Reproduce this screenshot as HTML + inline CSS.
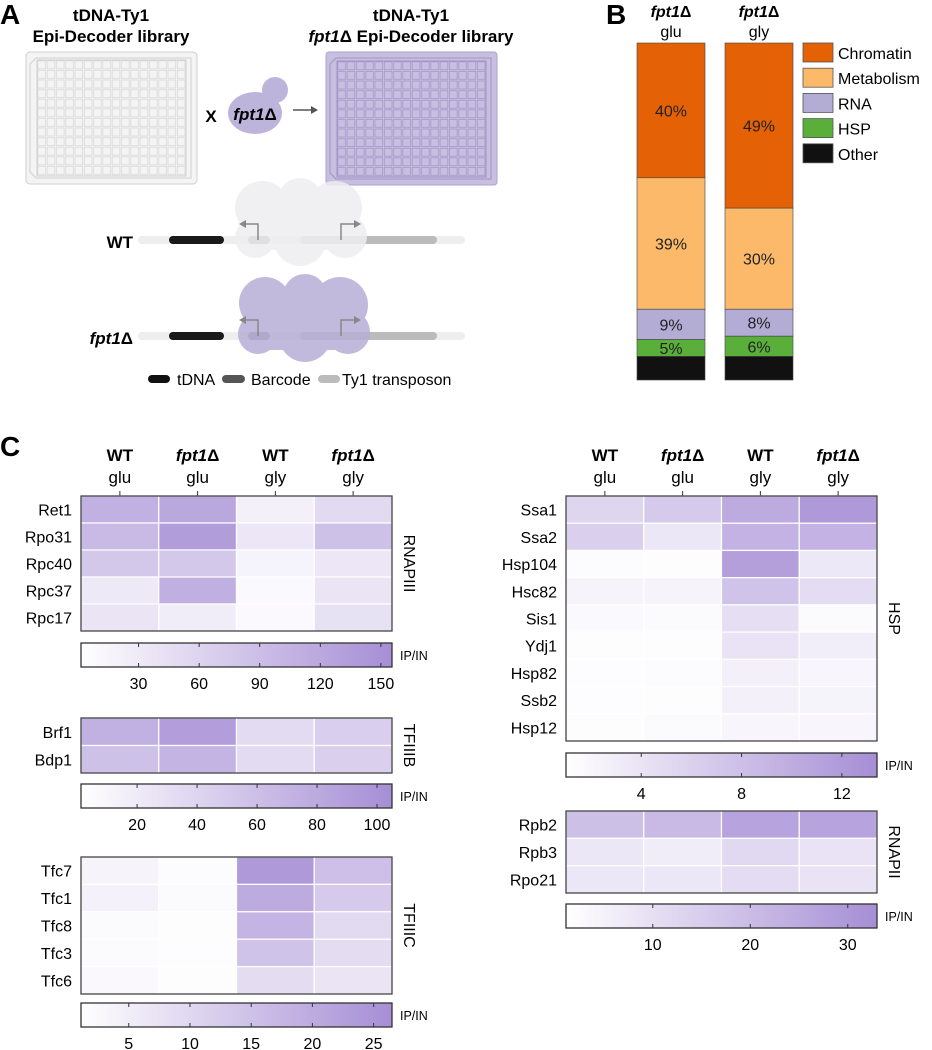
<!DOCTYPE html>
<html><head><meta charset="utf-8"><style>
body{margin:0;background:#fff;}
svg{display:block;font-family:"Liberation Sans",Arial,sans-serif;}
</style></head><body>
<svg id="fig" width="932" height="1050" viewBox="0 0 932 1050" xmlns="http://www.w3.org/2000/svg">
<defs>
<pattern id="gridL" x="37" y="60" width="9.3" height="9.6" patternUnits="userSpaceOnUse"><rect x="0.8" y="0.8" width="7.7" height="8" fill="none" stroke="#d8d8d8" stroke-width="0.8"/></pattern>
<pattern id="gridR" x="337" y="61" width="9.3" height="9.6" patternUnits="userSpaceOnUse"><rect x="0.8" y="0.8" width="7.7" height="8" fill="none" stroke="#a597c8" stroke-width="0.8"/></pattern>
</defs>
<g>
<text x="0" y="24" font-size="28" font-weight="bold">A</text>
<text x="111" y="21" font-size="17" font-weight="bold" text-anchor="middle">tDNA-Ty1</text>
<text x="111" y="42" font-size="17" font-weight="bold" text-anchor="middle">Epi-Decoder library</text>
<text x="411" y="21" font-size="17" font-weight="bold" text-anchor="middle">tDNA-Ty1</text>
<text x="411" y="42" font-size="17" font-weight="bold" text-anchor="middle"><tspan font-style="italic">fpt1</tspan>Δ Epi-Decoder library</text>
<g>
<rect x="26" y="52" width="171" height="132" rx="4" fill="#f4f4f5" stroke="#cfcfcf"/>
<path d="M36,58 L191,58 L191,178 L36,178 L30,172 L30,64 Z" fill="#f4f4f5" stroke="#d0d0d0"/>
<rect x="37" y="60" width="149" height="116" fill="url(#gridL)" stroke="#d0d0d0"/>
</g>
<g>
<rect x="326" y="52" width="171" height="133" rx="3" fill="#c7bfe0" stroke="#aea2cf"/>
<path d="M336,58 L491,58 L491,179 L336,179 L330,173 L330,64 Z" fill="#c7bfe0" stroke="#9f93c4"/>
<rect x="337" y="61" width="149" height="116" fill="url(#gridR)" stroke="#9f93c4"/>
</g>
<text x="211" y="122" font-size="17" font-weight="bold" text-anchor="middle">X</text>
<g>
<circle cx="275" cy="90" r="13" fill="#bdb4db"/>
<ellipse cx="255" cy="113" rx="27" ry="21" fill="#bdb4db"/>
<text x="255" y="120" font-size="17" font-weight="bold" text-anchor="middle"><tspan font-style="italic">fpt1</tspan>Δ</text>
</g>
<g><line x1="293" y1="110" x2="316" y2="110" stroke="#555" stroke-width="1.5"/><path d="M318,110 L311,106 L311,114 Z" fill="#555"/></g>
<text x="133" y="248" font-size="17" font-weight="bold" text-anchor="end">WT</text>
<g>
<line x1="142" y1="240" x2="461" y2="240" stroke="#eeeeee" stroke-width="8" stroke-linecap="round"/>
<line x1="173" y1="240" x2="220" y2="240" stroke="#1a1a1a" stroke-width="8" stroke-linecap="round"/>
<line x1="252" y1="240" x2="266" y2="240" stroke="#8a8a8a" stroke-width="8" stroke-linecap="round"/>
<line x1="304" y1="240" x2="433" y2="240" stroke="#bbbbbb" stroke-width="8" stroke-linecap="round"/>
<g fill="#eeeef0" opacity="0.85">
<circle cx="262" cy="208" r="27"/><circle cx="300" cy="200" r="22"/><circle cx="335" cy="208" r="27"/><circle cx="255" cy="238" r="20"/><circle cx="300" cy="240" r="26"/><circle cx="345" cy="236" r="22"/><rect x="250" y="200" width="100" height="50"/>
</g>
<path d="M258,240 V224 H242" fill="none" stroke="#888" stroke-width="1.5"/><path d="M239,224 L246,220 L246,228Z" fill="#888"/>
<path d="M341,240 V224 H357" fill="none" stroke="#888" stroke-width="1.5"/><path d="M361,224 L354,220 L354,228Z" fill="#888"/>
</g>
<text x="133" y="344" font-size="17" font-weight="bold" text-anchor="end"><tspan font-style="italic">fpt1</tspan>Δ</text>
<g>
<line x1="142" y1="336" x2="461" y2="336" stroke="#eeeeee" stroke-width="8" stroke-linecap="round"/>
<line x1="173" y1="336" x2="220" y2="336" stroke="#1a1a1a" stroke-width="8" stroke-linecap="round"/>
<line x1="252" y1="336" x2="266" y2="336" stroke="#8a8a8a" stroke-width="8" stroke-linecap="round"/>
<line x1="304" y1="336" x2="433" y2="336" stroke="#bbbbbb" stroke-width="8" stroke-linecap="round"/>
<g fill="#b8aed6" opacity="0.85">
<circle cx="265" cy="303" r="26"/><circle cx="305" cy="296" r="22"/><circle cx="340" cy="305" r="28"/><circle cx="258" cy="334" r="20"/><circle cx="305" cy="336" r="26"/><circle cx="348" cy="332" r="22"/><rect x="252" y="300" width="105" height="50"/>
</g>
<path d="M258,336 V320 H242" fill="none" stroke="#888" stroke-width="1.5"/><path d="M239,320 L246,316 L246,324Z" fill="#888"/>
<path d="M341,336 V320 H357" fill="none" stroke="#888" stroke-width="1.5"/><path d="M361,320 L354,316 L354,324Z" fill="#888"/>
</g>
<g>
<line x1="152" y1="379" x2="166" y2="379" stroke="#111" stroke-width="8" stroke-linecap="round"/>
<text x="177" y="385" font-size="16">tDNA</text>
<line x1="226" y1="379" x2="241" y2="379" stroke="#555" stroke-width="8" stroke-linecap="round"/>
<text x="251" y="385" font-size="16">Barcode</text>
<line x1="322" y1="379" x2="336" y2="379" stroke="#bbb" stroke-width="8" stroke-linecap="round"/>
<text x="342" y="385" font-size="16">Ty1 transposon</text>
</g>
</g>
<g id="panelB">
<text x="606" y="24" font-size="28" font-weight="bold">B</text>
</g>
<g id="panelC">
<text x="0" y="456" font-size="28" font-weight="bold">C</text>
</g>
</svg>
<script>
const NS="http://www.w3.org/2000/svg";
const svg=document.getElementById('fig');
function mk(tag,attrs,parent,text){const e=document.createElementNS(NS,tag);for(const k in attrs)e.setAttribute(k,attrs[k]);if(text!==undefined)e.textContent=text;(parent||svg).appendChild(e);return e;}

const bCategories=["Chromatin","Metabolism","RNA","HSP","Other"];
const bColors=["#e46205","#fbb969","#b3acd5","#5aaf3a","#111111"];
const bGluValues=[40,39,9,5,7];
const bGlyValues=[49,30,8,6,7];
const bBars=[{label:"glu",vals:bGluValues,x:637},{label:"gly",vals:bGlyValues,x:725}];
const pB=document.getElementById('panelB');
const bTop=43,bH=337,bW=68;
function yB(p){return bH*p/100;}
bBars.forEach(b=>{
  const t1=mk('text',{x:b.x+bW/2,y:17,'font-size':16,'font-weight':'bold','font-style':'italic','text-anchor':'middle'},pB);
  t1.innerHTML='fpt1<tspan font-style="normal">Δ</tspan>';
  
  
  const t2=mk('text',{x:b.x+bW/2,y:37,'font-size':16,'text-anchor':'middle'},pB,b.label);
  
  
  let y=bTop;
  b.vals.forEach((v,i)=>{
    const h=yB(v);
    const r=mk('rect',{x:b.x,y:y,width:bW,height:h,fill:bColors[i],stroke:'#444','stroke-width':0.6},pB);
    
    
    if(i<4){const t=mk('text',{x:b.x+bW/2,y:y+h/2+6,'font-size':16,'text-anchor':'middle',fill:'#222'},pB,v+'%');
      
      }
    y+=h;
  });
});
bCategories.forEach((c,i)=>{
  const y=43+i*25.2;
  const r=mk('rect',{x:803,y:y,width:30,height:19,fill:bColors[i],stroke:'#555','stroke-width':0.8},pB);
  
  
  const t=mk('text',{x:838,y:y+16,'font-size':16},pB,c);
  
  
});

const colLabels1=["WT","fpt1","WT","fpt1"];
const colLabels2=["glu","glu","gly","gly"];
const rnap3Rows=["Ret1","Rpo31","Rpc40","Rpc37","Rpc17"];
const rnap3Values=[[108,122,22,52],[96,135,35,86],[78,78,18,35],[32,110,10,38],[38,26,9,43]];
const rnap3Ticks=[30,60,90,120,150];
const tf3bRows=["Brf1","Bdp1"];
const tf3bValues=[[74,90,34,46],[58,70,34,44]];
const tf3bTicks=[20,40,60,80,100];
const tf3cRows=["Tfc7","Tfc1","Tfc8","Tfc3","Tfc6"];
const tf3cValues=[[3.8,2,24,15.5],[4.3,2.3,20,13],[2.2,1.5,18,9.5],[2.3,1.8,14.5,8.8],[2.6,1.5,8.8,7.2]];
const tf3cTicks=[5,10,15,20,25];
const hspRows=["Ssa1","Ssa2","Hsp104","Hsc82","Sis1","Ydj1","Hsp82","Ssb2","Hsp12"];
const hspValues=[[5.6,6.8,10.2,12.2],[6.2,3.6,9.4,9.4],[1.4,1.2,11.5,3.5],[2.3,2.3,7.6,4.8],[1.7,1.5,4.5,1.6],[1.2,1.2,4.1,2.9],[1.3,1.4,2.6,2],[1.3,1.2,2.6,2.2],[1.2,1.6,2,2]];
const hspTicks=[4,8,12];
const rnap2Rows=["Rpb2","Rpb3","Rpo21"];
const rnap2Values=[[19,20.5,27,27],[8,6.5,12,9],[8,8,11,9]];
const rnap2Ticks=[10,20,30];

const pC=document.getElementById('panelC');
function col(t){t=Math.max(0,Math.min(1,t));const a=[255,255,255],b=[166,142,213];return 'rgb('+a.map((v,i)=>Math.round(v+(b[i]-v)*t)).join(',')+')';}
let gid=0;
function heatmap(o){
  const g=mk('g',{},pC);
  
  
  const x0=o.x,W=311,cw=W/4,rh=(o.y1-o.y0)/o.rows.length;
  const sc=v=>(v-o.min)/(o.max-o.min);
  if(o.header){
    for(let j=0;j<4;j++){
      const cx=x0+cw*(j+0.5);
      const t=mk('text',{x:cx,y:o.y0-35,'font-size':17,'font-weight':'bold','text-anchor':'middle'},g);
      if(colLabels1[j]==='fpt1') t.innerHTML='<tspan font-style="italic">fpt1</tspan>Δ'; else t.textContent=colLabels1[j];
      
      
      const t2=mk('text',{x:cx,y:o.y0-13,'font-size':17,'text-anchor':'middle'},g,colLabels2[j]);
      
      
      mk('line',{x1:cx,y1:o.y0-5,x2:cx,y2:o.y0,stroke:'#333','stroke-width':1},g);
    }
  }
  o.rows.forEach((r,i)=>{
    const y=o.y0+i*rh;
    const lt=mk('text',{x:x0-9,y:y+rh/2+6,'font-size':16,'text-anchor':'end'},g,r);
    
    
    for(let j=0;j<4;j++){
      const c=mk('rect',{x:x0+j*cw,y:y,width:cw,height:rh,fill:col(sc(o.vals[i][j])),stroke:'#fff','stroke-width':1.2},g);
      
      
    }
  });
  mk('rect',{x:x0,y:o.y0,width:W,height:o.y1-o.y0,fill:'none',stroke:'#444','stroke-width':1.3},g);
  const gl=mk('text',{x:0,y:0,'font-size':16,'text-anchor':'middle',transform:'translate('+(x0+W+12)+','+((o.y0+o.y1)/2)+') rotate(90)'},g,o.group);
  
  
  const id='cb'+(gid++);
  const gr=mk('linearGradient',{id:id,x1:0,x2:1,y1:0,y2:0},svg.querySelector('defs'));
  mk('stop',{offset:0,'stop-color':col(0)},gr);mk('stop',{offset:1,'stop-color':col(1)},gr);
  const cb=mk('g',{},pC);
  
  
  const cy=o.cb;
  mk('rect',{x:x0,y:cy,width:W,height:24,fill:'url(#'+id+')',stroke:'#333','stroke-width':1.3},cb);
  const xs=v=>x0+W*(v-o.min)/(o.max-o.min);
  o.ticks.forEach(t=>{
    const x=xs(t);
    mk('line',{x1:x,y1:cy,x2:x,y2:cy+4,stroke:'#333'},cb);
    mk('line',{x1:x,y1:cy+20,x2:x,y2:cy+24,stroke:'#333'},cb);
    const tl=mk('text',{x:x,y:cy+46,'font-size':16,'text-anchor':'middle'},cb,t);
    
    
  });
  const ip=mk('text',{x:x0+W+8,y:cy+17,'font-size':12.5},cb,'IP/IN');
  
  
}
heatmap({name:'rnapiii',group:'RNAPIII',rows:rnap3Rows,vals:rnap3Values,ticks:rnap3Ticks,min:1.5,max:155.5,x:81,y0:496,y1:631,cb:643,header:true});
heatmap({name:'tfiiib',group:'TFIIIB',rows:tf3bRows,vals:tf3bValues,ticks:tf3bTicks,min:1.3,max:105,x:81,y0:718,y1:773,cb:784});
heatmap({name:'tfiiic',group:'TFIIIC',rows:tf3cRows,vals:tf3cValues,ticks:tf3cTicks,min:1.1,max:26.5,x:81,y0:857,y1:994,cb:1003});
heatmap({name:'hsp',group:'HSP',rows:hspRows,vals:hspValues,ticks:hspTicks,min:1,max:13.4,x:566,y0:496,y1:741,cb:753,header:true});
heatmap({name:'rnapii',group:'RNAPII',rows:rnap2Rows,vals:rnap2Values,ticks:rnap2Ticks,min:1.1,max:33,x:566,y0:811,y1:893,cb:904});
</script>
</body></html>
